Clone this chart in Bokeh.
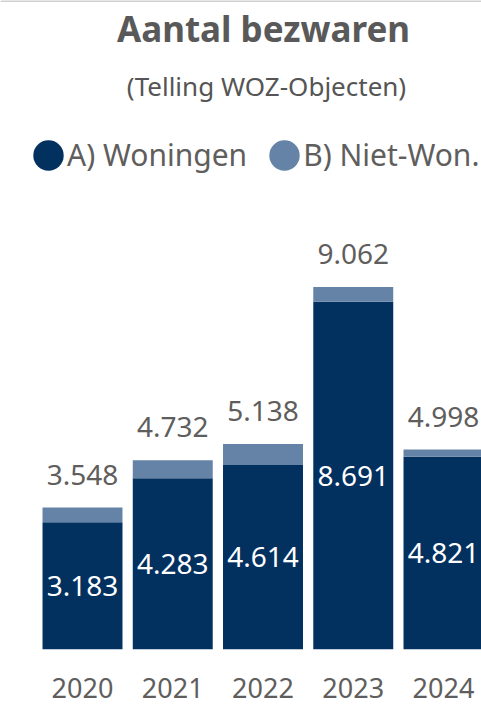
from bokeh.plotting import figure
from bokeh.models import (ColumnDataSource, Range1d, FixedTicker, Label, Legend,
                          LegendItem, Span)
from bokeh.core.properties import value
from bokeh.embed import file_html
from bokeh.resources import INLINE

# ---- data ----
years = [2020, 2021, 2022, 2023, 2024]
woningen = [3183, 4283, 4614, 8691, 4821]
niet_won = [365, 449, 524, 371, 177]
totals = [w + n for w, n in zip(woningen, niet_won)]
series_labels = ["A) Woningen", "B) Niet-Won."]
title_text = "Aantal bezwaren"
subtitle_text = "(Telling WOZ-Objecten)"

DARK = "#02305F"
LIGHT = "#6483A6"
GREY = "#605E5C"
FONT = "Noto Sans"


def fmt(v):
    return f"{v:,}".replace(",", ".")


src = ColumnDataSource(dict(
    year=years, won=woningen, niet=niet_won, total=totals,
    won_mid=[w / 2 for w in woningen],
    won_lbl=[fmt(v) for v in woningen],
    tot_lbl=[fmt(v) for v in totals],
))

W, H = 481, 727
FRAME_H = 649
YMAX = 16225

p = figure(width=W, height=H, output_backend="svg", toolbar_location=None,
           x_range=Range1d(2019.0914, 2024.421), y_range=Range1d(0, YMAX),
           min_border_left=0, min_border_right=0, min_border_top=0,
           min_border_bottom=H - FRAME_H, y_axis_location=None)
p.outline_line_color = None
p.xgrid.visible = False
p.ygrid.visible = False
p.background_fill_color = "white"
p.border_fill_color = "white"

p.add_layout(Span(location=YMAX, dimension="width", line_color="#cfcfcf", line_width=3))

p.vbar(x="year", width=0.886, bottom=0, top="won", source=src,
       fill_color=DARK, line_color=None)
p.vbar(x="year", width=0.886, bottom="won", top="total", source=src,
       fill_color=LIGHT, line_color=None)

p.text(x="year", y="total", text="tot_lbl", source=src, y_offset=-33,
       text_align="center", text_baseline="middle", text_font=value(FONT),
       text_font_size="28px", text_color=GREY)
p.text(x="year", y="won_mid", text="won_lbl", source=src,
       text_align="center", text_baseline="middle", text_font=value(FONT),
       text_font_size="28px", text_color="white")

ax = p.xaxis[0]
ax.ticker = FixedTicker(ticks=years)
ax.axis_line_color = None
ax.major_tick_line_color = None
ax.minor_tick_line_color = None
ax.major_label_standoff = 22
ax.major_label_text_font = FONT
ax.major_label_text_font_size = "27px"
ax.major_label_text_color = GREY

# legend (round swatches); NaN positions so nothing shows in the plot area
nan = float("nan")
r1 = p.ellipse(x=[nan], y=[nan], width=30, height=30, width_units="screen",
               height_units="screen", fill_color=DARK, line_color=None)
r2 = p.ellipse(x=[nan], y=[nan], width=30, height=30, width_units="screen",
               height_units="screen", fill_color=LIGHT, line_color=None)
legend = Legend(items=[LegendItem(label=series_labels[0], renderers=[r1], index=0),
                       LegendItem(label=series_labels[1], renderers=[r2], index=0)],
                orientation="horizontal", location=(29, 474),
                glyph_width=38, glyph_height=38, label_standoff=0, spacing=18,
                padding=0, margin=0, border_line_color=None,
                background_fill_alpha=0, label_text_font=FONT,
                label_text_font_size="30px", label_text_color=GREY)
p.add_layout(legend)

p.add_layout(Label(x=263, y=FRAME_H - 28, x_units="screen", y_units="screen",
                   text=title_text, text_align="center", text_baseline="middle",
                   text_font=FONT, text_font_size="35px", text_font_style="bold",
                   text_color="#595959"))
p.add_layout(Label(x=266, y=FRAME_H - 85, x_units="screen", y_units="screen",
                   text=subtitle_text, text_align="center", text_baseline="middle",
                   text_font=FONT, text_font_size="26px",
                   text_color="#555555"))

open("out.html", "w").write(file_html(p, INLINE))
